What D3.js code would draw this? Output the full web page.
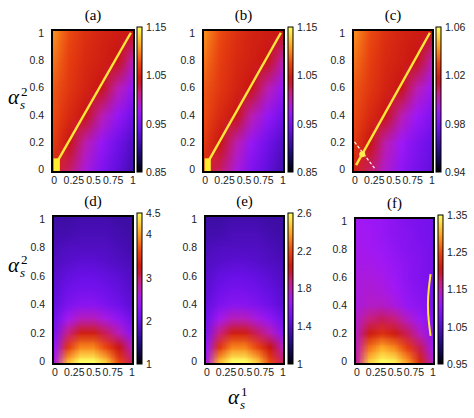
<!DOCTYPE html>
<html><head><meta charset="utf-8">
<script src="https://cdn.jsdelivr.net/npm/d3@7"></script>
<style>body{margin:0;background:#fff}</style></head>
<body><svg id="c" width="474" height="418"></svg>
<script>
// ---- data (grids: rows from y=1 (top) to y=0 (bottom), columns x=0..1) ----
const panelLabels = ["(a)","(b)","(c)","(d)","(e)","(f)"];
const axisTicks = [0,0.25,0.5,0.75,1];
const yTicks = [0,0.2,0.4,0.6,0.8,1];
const cbarDomains = [[0.85,1.15],[0.85,1.15],[0.94,1.06],[1,4.5],[1,2.6],[0.95,1.35]];
const cbarTicks = [[0.85,0.95,1.05,1.15],[0.85,0.95,1.05,1.15],[0.94,0.98,1.02,1.06],[1,2,3,4,4.5],[1,1.4,1.8,2.2,2.6],[0.95,1.05,1.15,1.25,1.35]];
const gridA = [
 [1.10,1.075,1.06,1.05,1.045,1.04],
 [1.09,1.07,1.055,1.048,1.04,1.00],
 [1.08,1.065,1.05,1.04,1.00,0.97],
 [1.075,1.055,1.04,1.00,0.97,0.945],
 [1.065,1.04,1.00,0.97,0.945,0.925],
 [1.05,1.02,0.985,0.955,0.935,0.915]];
const gridB = [
 [1.10,1.075,1.06,1.05,1.045,1.04],
 [1.09,1.07,1.055,1.048,1.04,1.00],
 [1.08,1.065,1.05,1.04,1.00,0.97],
 [1.075,1.055,1.04,1.00,0.97,0.945],
 [1.065,1.04,1.00,0.97,0.945,0.925],
 [1.05,1.02,0.985,0.955,0.935,0.915]];
const gridC = [
 [1.040,1.030,1.024,1.020,1.018,1.016],
 [1.036,1.028,1.022,1.019,1.016,1.000],
 [1.032,1.026,1.020,1.016,1.000,0.990],
 [1.030,1.022,1.016,1.000,0.990,0.982],
 [1.026,1.016,1.000,0.990,0.982,0.976],
 [1.020,1.008,0.996,0.986,0.980,0.974]];
const gridD = [
 [1.7,1.7,1.75,1.75,1.75,1.7,1.7],
 [1.75,1.75,1.8,1.8,1.8,1.75,1.7],
 [1.8,1.85,1.85,1.85,1.85,1.8,1.75],
 [1.85,1.9,1.95,1.95,1.9,1.85,1.8],
 [1.9,2.0,2.05,2.05,2.0,1.95,1.85],
 [1.95,2.1,2.15,2.15,2.1,2.0,1.9],
 [2.0,2.2,2.3,2.3,2.2,2.1,1.95],
 [2.1,2.5,2.7,2.7,2.55,2.35,2.1],
 [2.2,2.9,3.3,3.3,3.0,2.7,2.3],
 [2.4,3.5,3.9,3.9,3.6,3.2,2.7],
 [2.6,4.1,4.5,4.5,4.2,3.6,3.0]];
const gridE = [
 [1.32,1.32,1.34,1.34,1.34,1.32,1.32],
 [1.34,1.34,1.37,1.37,1.37,1.34,1.32],
 [1.37,1.39,1.39,1.39,1.39,1.37,1.34],
 [1.39,1.41,1.43,1.43,1.41,1.39,1.37],
 [1.41,1.46,1.48,1.48,1.46,1.43,1.39],
 [1.43,1.50,1.53,1.53,1.50,1.46,1.41],
 [1.46,1.55,1.59,1.59,1.55,1.50,1.43],
 [1.50,1.69,1.78,1.78,1.71,1.62,1.50],
 [1.55,1.87,2.05,2.05,1.91,1.78,1.59],
 [1.64,2.14,2.32,2.32,2.19,2.01,1.78],
 [1.73,2.42,2.60,2.60,2.46,2.19,1.91]];
const gridF = [
 [1.12,1.115,1.11,1.10,1.09,1.085,1.08],
 [1.12,1.12,1.11,1.10,1.095,1.085,1.08],
 [1.125,1.12,1.115,1.105,1.095,1.09,1.08],
 [1.125,1.125,1.12,1.11,1.10,1.09,1.08],
 [1.13,1.13,1.125,1.115,1.10,1.09,1.08],
 [1.13,1.135,1.13,1.12,1.105,1.095,1.08],
 [1.13,1.14,1.14,1.13,1.11,1.10,1.085],
 [1.14,1.17,1.18,1.17,1.14,1.115,1.095],
 [1.145,1.21,1.23,1.21,1.18,1.14,1.10],
 [1.15,1.27,1.30,1.28,1.24,1.18,1.12],
 [1.16,1.32,1.35,1.34,1.29,1.22,1.14]];
const lineA = [[0.05,0.06],[0.98,1.0]];
const lineB = [[0.05,0.06],[0.98,1.0]];
const lineC = [[0.02,0.03],[0.98,1.0]];
const dashC = [[0.0,0.2],[0.27,0.0]];
const curveF = [[0.975,0.18],[0.95,0.28],[0.935,0.4],[0.95,0.52],[0.975,0.62]];
const grids = [gridA,gridB,gridC,gridD,gridE,gridF];

// ---- layout ----
const boxes = [
 {x0:52,x1:134,y0:30,y1:172,cb:137},
 {x0:203,x1:284,y0:30,y1:172,cb:288},
 {x0:353,x1:433,y0:30,y1:172,cb:436},
 {x0:53,x1:133,y0:216,y1:364,cb:137},
 {x0:205,x1:284,y0:216,y1:364,cb:288},
 {x0:355,x1:434,y0:218,y1:364,cb:438}];

const stops=[[0,"#000000"],[0.12,"#1a0a70"],[0.3,"#6a10e8"],[0.42,"#a018f8"],[0.54,"#c8208a"],[0.63,"#c81414"],[0.74,"#e84010"],[0.86,"#ffa020"],[1,"#ffff60"]];
const cmap = d3.scaleLinear().domain(stops.map(s=>s[0])).range(stops.map(s=>s[1])).interpolate(d3.interpolateRgb).clamp(true);

const svg=d3.select("#c");
const defs=svg.append("defs");
const tickFont="'Liberation Sans', sans-serif";

boxes.forEach((b,i)=>{
  const g=grids[i], rows=g.length, cols=g[0].length;
  const x=d3.scaleLinear().domain([-0.02,1.02]).range([b.x0,b.x1]);
  const y=d3.scaleLinear().domain([-0.02,1.02]).range([b.y1,b.y0]);
  const norm=d3.scaleLinear().domain(cbarDomains[i]).range([0,1]);
  const cv=document.createElement("canvas"); cv.width=cols; cv.height=rows;
  const ctx=cv.getContext("2d");
  g.forEach((row,r)=>row.forEach((v,c)=>{ctx.fillStyle=cmap(norm(v));ctx.fillRect(c,r,1,1);}));
  const dx=(x(1)-x(0))/(cols-1), dy=(y(0)-y(1))/(rows-1);
  defs.append("clipPath").attr("id","cl"+i).append("rect").attr("x",b.x0).attr("y",b.y0).attr("width",b.x1-b.x0).attr("height",b.y1-b.y0);
  const pg=svg.append("g").attr("clip-path",`url(#cl${i})`);
  pg.append("image").attr("href",cv.toDataURL()).attr("preserveAspectRatio","none")
    .attr("x",x(0)-dx/2).attr("y",y(1)-dy/2).attr("width",dx*cols).attr("height",dy*rows)
    .style("image-rendering","auto");
  const ln=d3.line().x(d=>x(d[0])).y(d=>y(d[1]));
  if(i<3){
    const L=[lineA,lineB,lineC][i];
    pg.append("path").attr("d",ln(L)).attr("stroke","#ffe838").attr("stroke-width",2.4).attr("fill","none");
    if(i<2) pg.append("rect").attr("x",x(0)).attr("y",y(0.08)).attr("width",x(0.08)-x(0)).attr("height",y(-0.02)-y(0.08)).attr("fill","#ffee30");
    else {
      pg.append("path").attr("d",ln(dashC)).attr("stroke","#fff").attr("stroke-width",1.2).attr("stroke-dasharray","3,2").attr("fill","none");
      pg.append("circle").attr("cx",x(0.1)).attr("cy",y(0.11)).attr("r",3).attr("fill","#ffee50");
    }
  }
  if(i===5) pg.append("path").attr("d",d3.line().curve(d3.curveBasis).x(d=>x(d[0])).y(d=>y(d[1]))(curveF)).attr("stroke","#ffe838").attr("stroke-width",2).attr("fill","none");
  svg.append("rect").attr("x",b.x0).attr("y",b.y0).attr("width",b.x1-b.x0).attr("height",b.y1-b.y0).attr("fill","none").attr("stroke","#000").attr("stroke-width",2);
  const xa=svg.append("g").attr("transform",`translate(0,${b.y1})`).call(d3.axisBottom(x).tickValues(axisTicks).tickSize(0).tickPadding(5).tickFormat(d=>d3.format("~g")(d)));
  const ya=svg.append("g").attr("transform",`translate(${b.x0},0)`).call(d3.axisLeft(y).tickValues(yTicks).tickSize(0).tickPadding(8).tickFormat(d=>d3.format("~g")(d)));
  [xa,ya].forEach(a=>{a.select(".domain").remove();a.selectAll("text").attr("font-family",tickFont).attr("font-size",10.5).attr("fill","#222");});
  const gid="gr"+i;
  const gr=defs.append("linearGradient").attr("id",gid).attr("x1",0).attr("y1",1).attr("x2",0).attr("y2",0);
  d3.range(0,1.0001,0.05).forEach(t=>gr.append("stop").attr("offset",t).attr("stop-color",cmap(t)));
  const cy=d3.scaleLinear().domain(cbarDomains[i]).range([b.y1,b.y0-3]);
  svg.append("rect").attr("x",b.cb).attr("y",cy.range()[1]).attr("width",5).attr("height",cy.range()[0]-cy.range()[1]).attr("fill",`url(#${gid})`).attr("stroke","#000").attr("stroke-width",1);
  const ca=svg.append("g").attr("transform",`translate(${b.cb+5},0)`).call(d3.axisRight(cy).tickValues(cbarTicks[i]).tickSize(0).tickPadding(4).tickFormat(d=>String(d)));
  ca.select(".domain").remove();
  ca.selectAll("text").attr("font-family",tickFont).attr("font-size",10.5).attr("fill","#222");
  svg.append("text").attr("x",(b.x0+b.x1)/2).attr("y",b.y0-10).attr("text-anchor","middle").attr("font-family","'Liberation Serif', serif").attr("font-size",15).text(panelLabels[i]);
});
function alpha(xp,yp,sup){
  const f="'Liberation Serif', serif";
  svg.append("text").attr("x",xp).attr("y",yp).attr("font-family",f).attr("font-style","italic").attr("font-size",21).text("α");
  svg.append("text").attr("x",xp+12).attr("y",yp+5).attr("font-family",f).attr("font-style","italic").attr("font-size",13).text("s");
  svg.append("text").attr("x",xp+13).attr("y",yp-8).attr("font-family",f).attr("font-size",13).text(sup);
}
alpha(8,104,"2");
alpha(8,272,"2");
alpha(228,404,"1");
</script></body></html>
